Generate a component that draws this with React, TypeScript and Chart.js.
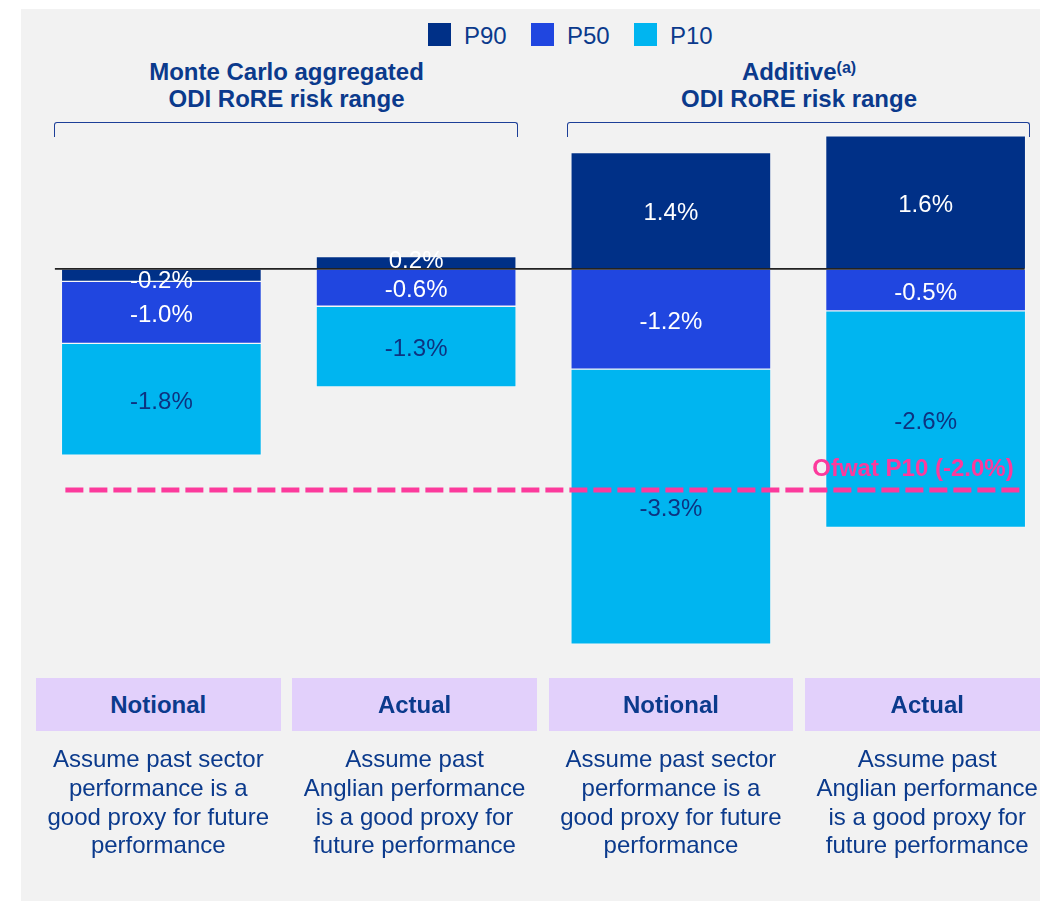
import React, { useEffect, useRef } from "react";
import { Chart, registerables } from "chart.js";

Chart.register(...registerables);

// ---------------- Data ----------------
const categories = ["Notional", "Actual", "Notional", "Actual"];
const categoryGroup = [0, 0, 1, 1];
const groupTitles = ["Monte Carlo aggregated", "Additive"];
const groupSubtitle = "ODI RoRE risk range";
const groupFootnote = ["", "(a)"];
const seriesNames = ["P90", "P50", "P10"];
const p90 = [-0.2, 0.2, 1.4, 1.6];
const p50 = [-1.0, -0.6, -1.2, -0.5];
const p10 = [-1.8, -1.3, -3.3, -2.6];
const ofwatP10 = -2.0;
const ofwatLabel = "Ofwat P10 (-2.0%)";
const descriptions = [
  ["Assume past sector", "performance is a", "good proxy for future", "performance"],
  ["Assume past", "Anglian performance", "is a good proxy for", "future performance"],
  ["Assume past sector", "performance is a", "good proxy for future", "performance"],
  ["Assume past", "Anglian performance", "is a good proxy for", "future performance"],
];

// Axis ranges (each group of bars is drawn on its own scale, as in the source graphic)
const mcAxisRange = { min: -6.3, max: 2.4 };
const addAxisRange = { min: -4.69, max: 1.79 };
const refAxisRange = { min: -3.54, max: 1.35 };

// ---------------- Styles ----------------
const FONT = "'Liberation Sans', Arial, Helvetica, sans-serif";
const NAVY_TEXT = "#0b3a8c";
const seriesColors = ["#003087", "#2046e0", "#00b5f0"];
const labelColors = ["#ffffff", "#ffffff", "#0d3380"];
const PINK = "#fc3a9c";
const LAVENDER = "#e2d0fb";
const BRACKET = "#1d3f98";
const axisIds = ["yMC", "yAdd"];

const overlayPlugin = {
  id: "overlay",
  afterDatasetsDraw(chart: any) {
    const ctx = chart.ctx;
    // value labels
    chart.data.datasets.forEach((ds: any, di: number) => {
      const meta = chart.getDatasetMeta(di);
      meta.data.forEach((el: any, i: number) => {
        const v = ds.data[i];
        if (v === null || v === undefined) return;
        const p = el.getProps(["x", "y", "base"], true);
        const h = Math.abs(p.y - p.base);
        const shift = 3 + (h < 20 ? (v < 0 ? 3 : -4) : 0);
        ctx.save();
        ctx.font = `24px ${FONT}`;
        ctx.fillStyle = labelColors[ds.seriesIndex];
        ctx.textAlign = "center";
        ctx.textBaseline = "middle";
        ctx.fillText(`${v.toFixed(1)}%`, p.x, (p.y + p.base) / 2 + shift);
        ctx.restore();
      });
    });
    // bounds of bars
    const firstBar = chart.getDatasetMeta(0).data[0].getProps(["x", "width"], true);
    const lastBar = chart.getDatasetMeta(3).data[3].getProps(["x", "width"], true);
    const left = firstBar.x - firstBar.width / 2;
    const right = lastBar.x + lastBar.width / 2;

    // zero line
    const y0 = chart.scales.yMC.getPixelForValue(0);
    ctx.save();
    ctx.strokeStyle = "#222222";
    ctx.lineWidth = 1.8;
    ctx.beginPath();
    ctx.moveTo(left - 6.5, y0);
    ctx.lineTo(right - 1, y0);
    ctx.stroke();
    ctx.restore();

    // Ofwat P10 reference line
    const yR = chart.scales.yRef.getPixelForValue(ofwatP10);
    ctx.save();
    ctx.strokeStyle = PINK;
    ctx.lineWidth = 5;
    ctx.setLineDash([18, 6]);
    ctx.beginPath();
    ctx.moveTo(left + 4, yR);
    ctx.lineTo(right - 6, yR);
    ctx.stroke();
    ctx.setLineDash([]);
    ctx.font = `bold 24px ${FONT}`;
    ctx.fillStyle = PINK;
    ctx.textAlign = "right";
    ctx.textBaseline = "alphabetic";
    ctx.fillText(ofwatLabel, right - 12, yR - 14);
    ctx.restore();
  },
};

export default function App() {
  const canvasRef = useRef<HTMLCanvasElement | null>(null);

  useEffect(() => {
    const seriesValues = [p90, p50, p10];
    const datasets: any[] = [];
    for (let g = 0; g < 2; g++) {
      for (let s = 0; s < seriesNames.length; s++) {
        datasets.push({
          label: seriesNames[s],
          seriesIndex: s,
          data: seriesValues[s].map((v, i) => (categoryGroup[i] === g ? v : null)),
          yAxisID: axisIds[g],
          backgroundColor: seriesColors[s],
          borderColor: "rgba(255,255,255,0.3)",
          borderWidth: 1,
          borderSkipped: false,
          barThickness: 200,
          skipNull: true,
          stack: "all",
        });
      }
    }
    const chart = new Chart(canvasRef.current as HTMLCanvasElement, {
      type: "bar",
      data: { labels: categories, datasets },
      options: {
        animation: false,
        responsive: false,
        devicePixelRatio: 1,
        layout: { padding: { left: 34, right: 7, top: 120, bottom: 241 } },
        plugins: { legend: { display: false }, tooltip: { enabled: false } },
        scales: {
          x: { type: "category", display: false, stacked: true, offset: true, grid: { display: false } },
          yMC: { type: "linear", display: false, stacked: true, min: mcAxisRange.min, max: mcAxisRange.max },
          yAdd: { type: "linear", display: false, stacked: true, min: addAxisRange.min, max: addAxisRange.max },
          yRef: { type: "linear", display: false, min: refAxisRange.min, max: refAxisRange.max },
        },
      } as any,
      plugins: [overlayPlugin],
    });
    return () => chart.destroy();
  }, []);

  const groupCenters = [286.5, 799];
  const brackets = [
    { left: 55, right: 518 },
    { left: 568, right: 1030 },
  ];
  const boxLeft0 = 36;
  const boxStep = 256.33;
  const boxWidth = 244.5;

  return (
    <div
      style={{
        position: "absolute",
        left: 0,
        top: 0,
        width: 1040,
        height: 901,
        overflow: "hidden",
        background: "#ffffff",
        fontFamily: FONT,
        color: NAVY_TEXT,
      }}
    >
      <div style={{ position: "absolute", left: 21, top: 9, right: 0, bottom: 0, background: "#f2f2f2" }} />

      {/* legend */}
      <div style={{ position: "absolute", left: 428, top: 23, display: "flex", gap: 24.3, height: 23 }}>
        {seriesNames.map((n, i) => (
          <div key={n} style={{ display: "flex", alignItems: "center" }}>
            <div style={{ width: 23, height: 23, background: seriesColors[i], marginRight: 13 }} />
            <span style={{ fontSize: 24, lineHeight: "23px", position: "relative", top: 1 }}>{n}</span>
          </div>
        ))}
      </div>

      {/* group headers */}
      {groupTitles.map((t, g) => (
        <div
          key={t}
          style={{
            position: "absolute",
            left: groupCenters[g] - 250,
            width: 500,
            top: 57.8,
            textAlign: "center",
            fontSize: 24,
            fontWeight: "bold",
            lineHeight: "27.7px",
          }}
        >
          <div style={{ height: 27.7 }}>
            {t}
            {groupFootnote[g] ? (
              <span style={{ fontSize: 16, lineHeight: "0", position: "relative", top: -7 }}>{groupFootnote[g]}</span>
            ) : null}
          </div>
          <div>{groupSubtitle}</div>
        </div>
      ))}

      {/* brackets */}
      {brackets.map((b, i) => (
        <div
          key={i}
          style={{
            position: "absolute",
            left: b.left - 0.75,
            top: 122,
            width: b.right - b.left - 1.5,
            height: 14,
            borderTop: `1.6px solid ${BRACKET}`,
            borderLeft: `1.6px solid ${BRACKET}`,
            borderRight: `1.6px solid ${BRACKET}`,
            borderTopLeftRadius: 3,
            borderTopRightRadius: 3,
          }}
        />
      ))}

      <canvas
        ref={canvasRef}
        width={1060}
        height={901}
        style={{ position: "absolute", left: 0, top: 0, width: 1060, height: 901 }}
      />

      {/* category boxes */}
      {categories.map((c, i) => (
        <div
          key={"box" + i}
          style={{
            position: "absolute",
            left: boxLeft0 + i * boxStep,
            top: 678,
            width: boxWidth,
            height: 52.7,
            background: LAVENDER,
            display: "flex",
            alignItems: "center",
            justifyContent: "center",
            fontSize: 24,
            fontWeight: "bold",
            paddingTop: 2,
            boxSizing: "border-box",
          }}
        >
          {c}
        </div>
      ))}

      {/* descriptions */}
      {descriptions.map((lines, i) => (
        <div
          key={"desc" + i}
          style={{
            position: "absolute",
            left: boxLeft0 + i * boxStep - 10,
            top: 745.4,
            width: boxWidth + 20,
            textAlign: "center",
            fontSize: 24,
            lineHeight: "28.6px",
          }}
        >
          {lines.map((l, j) => (
            <div key={j}>{l}</div>
          ))}
        </div>
      ))}
    </div>
  );
}
